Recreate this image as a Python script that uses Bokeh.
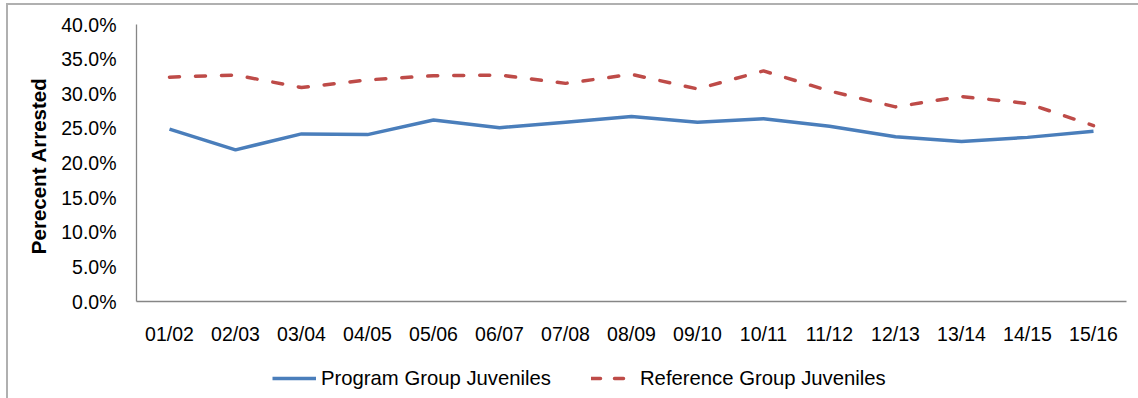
from bokeh.plotting import figure
from bokeh.layouts import column
from bokeh.models import (FactorRange, Range1d, NumeralTickFormatter, Legend,
                          LegendItem, SingleIntervalTicker)
from bokeh.embed import file_html
from bokeh.resources import INLINE

# School years and arrest rates (fraction of juveniles arrested)
years = ["01/02", "02/03", "03/04", "04/05", "05/06", "06/07", "07/08", "08/09",
         "09/10", "10/11", "11/12", "12/13", "13/14", "14/15", "15/16"]
program_group = [0.249, 0.219, 0.242, 0.241, 0.262, 0.251, 0.259, 0.267,
                 0.259, 0.264, 0.253, 0.238, 0.231, 0.237, 0.246]
reference_group = [0.324, 0.327, 0.309, 0.320, 0.326, 0.327, 0.315, 0.328,
                   0.307, 0.333, 0.304, 0.281, 0.296, 0.286, 0.254]

FONT = "Liberation Sans"
BLUE = "#4a7ebb"
RED = "#be4b48"
AXIS_GREY = "#868686"
LINE_W = 3.5
DASH = "10 16"

p = figure(width=1130, height=353, output_backend="svg", toolbar_location=None,
           x_range=FactorRange(factors=years, range_padding=0),
           y_range=Range1d(0, 0.4),
           min_border_left=128, min_border_right=12, min_border_top=19,
           min_border_bottom=57)

p.outline_line_color = None
p.xgrid.grid_line_color = None
p.ygrid.grid_line_color = None

p.line(years, program_group, line_color=BLUE, line_width=LINE_W,
       line_join="round")
p.line(years, reference_group, line_color=RED, line_width=LINE_W,
       line_dash=DASH, line_cap="round", line_join="round")

# Axes
p.yaxis.ticker = SingleIntervalTicker(interval=0.05)
p.yaxis.formatter = NumeralTickFormatter(format="0.0%")
p.yaxis.axis_label = "Perecent  Arrested"
p.yaxis.axis_label_text_font = FONT
p.yaxis.axis_label_text_font_style = "bold"
p.yaxis.axis_label_text_font_size = "20.5px"
p.yaxis.axis_label_text_color = "black"
p.yaxis.axis_label_standoff = 8

for ax in (p.xaxis, p.yaxis):
    ax.axis_line_color = AXIS_GREY
    ax.axis_line_width = 1.3
    ax.major_tick_line_color = None
    ax.major_tick_out = 0
    ax.major_tick_in = 0
    ax.minor_tick_line_color = None
    ax.major_label_text_font = FONT
    ax.major_label_text_font_size = "19.5px"
    ax.major_label_text_color = "black"

p.yaxis.major_label_standoff = 16
p.xaxis.major_label_standoff = 21

# Legend strip underneath the chart (its frame lines up with the chart's frame)
lg = figure(width=1130, height=40, output_backend="svg", toolbar_location=None,
            x_range=Range1d(0, 1), y_range=Range1d(0, 1),
            min_border=0, x_axis_type=None, y_axis_type=None)
lg.outline_line_color = None
lg.xgrid.grid_line_color = None
lg.ygrid.grid_line_color = None
k_prog = lg.line([0, 1], [5, 5], line_color=BLUE, line_width=LINE_W)
k_ref = lg.line([0, 1], [5, 5], line_color=RED, line_width=LINE_W,
                line_dash="9 14", line_cap="round")
legend = Legend(items=[LegendItem(label="Program Group Juveniles", renderers=[k_prog]),
                       LegendItem(label="Reference Group Juveniles", renderers=[k_ref])],
                orientation="horizontal", location=(136, 0),
                border_line_color=None, background_fill_alpha=0,
                glyph_width=44, glyph_height=40, label_standoff=5, spacing=40,
                label_text_font=FONT, label_text_font_size="20.3px",
                label_text_color="black", padding=0, margin=0)
lg.add_layout(legend, "center")

layout = column(p, lg, spacing=0,
                styles={"border-left": "2px solid #b0b0b0",
                        "border-top": "2px solid #b0b0b0"})
layout.margin = (3, 0, 0, 6)

open("out.html", "w").write(file_html(layout, INLINE))
